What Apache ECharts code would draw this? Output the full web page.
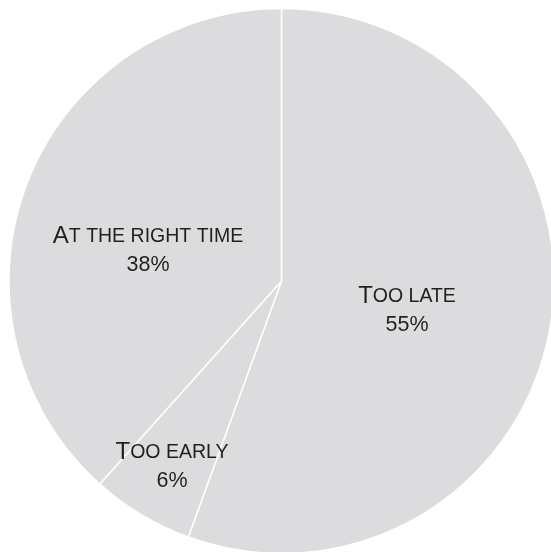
<!DOCTYPE html>
<html>
<head>
<meta charset="utf-8">
<script src="https://cdn.jsdelivr.net/npm/echarts@6/dist/echarts.min.js"></script>
<style>
  html, body { margin: 0; padding: 0; background: #ffffff; }
  #chart { width: 551px; height: 552px; }
</style>
</head>
<body>
<div id="chart"></div>
<script>
// Answers to "when did it happen?"
const categories = ['Too late', 'Too early', 'At the right time'];
const shares = [55, 6, 38];

// Label anchor points (pixel centres of each two-line label block)
const labelSpots = [[407, 311], [172, 467], [148, 251]];

const FONT = '"Liberation Sans Narrow", "Liberation Sans", sans-serif';

function smallCaps(name) {
  return '{cap|' + name.charAt(0).toUpperCase() + '}{sc|' + name.slice(1).toUpperCase() + '}';
}

const chart = echarts.init(document.getElementById('chart'), null, { renderer: 'canvas' });

chart.setOption({
  backgroundColor: '#ffffff',
  animation: false,
  series: [{
    type: 'pie',
    center: [281.5, 281],
    radius: 272.5,
    startAngle: 90,
    clockwise: true,
    avoidLabelOverlap: false,
    silent: true,
    itemStyle: { color: '#dcdcde', borderColor: '#ffffff', borderWidth: 1.5 },
    label: {
      show: true,
      position: 'inside',
      formatter: p => smallCaps(p.name) + '\n{pct|' + p.value + '%}',
      rich: {
        cap: { fontFamily: FONT, fontSize: 24, color: '#231f20', lineHeight: 29 },
        sc: { fontFamily: FONT, fontSize: 19.5, color: '#231f20', lineHeight: 29 },
        pct: { fontFamily: FONT, fontSize: 21.5, color: '#231f20', lineHeight: 29, align: 'center' }
      },
      align: 'center'
    },
    labelLine: { show: false },
    labelLayout: params => ({
      x: labelSpots[params.dataIndex][0],
      y: labelSpots[params.dataIndex][1],
      align: 'center',
      verticalAlign: 'middle'
    }),
    data: categories.map((c, i) => ({ name: c, value: shares[i] }))
  }]
});
</script>
</body>
</html>
